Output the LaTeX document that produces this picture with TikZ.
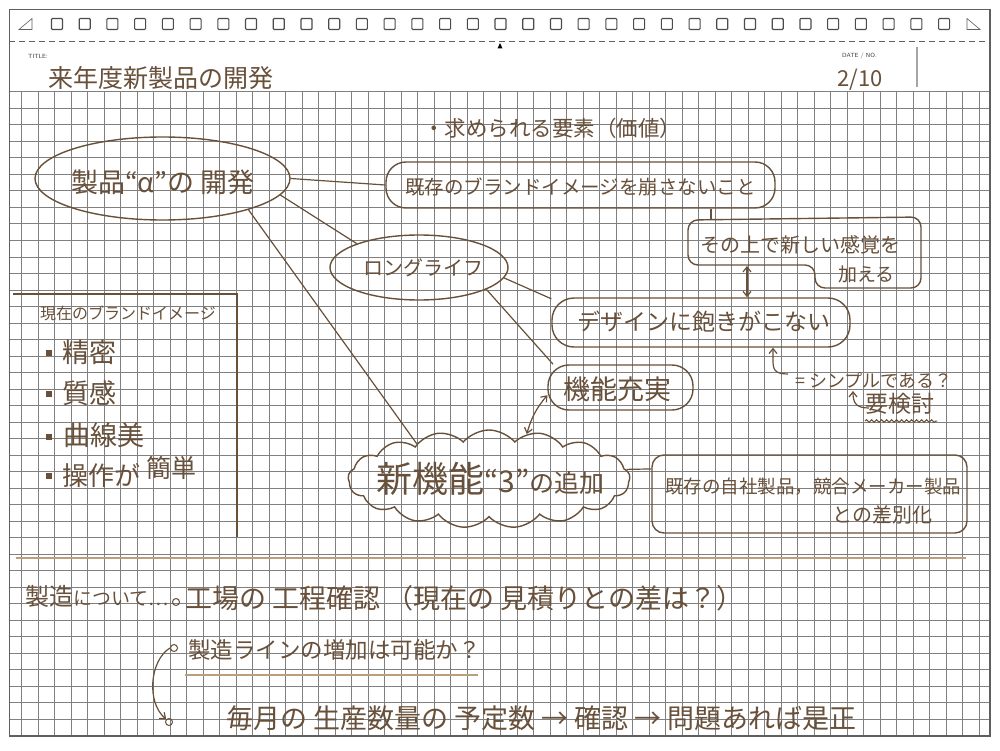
\documentclass[tikz,border=0pt]{standalone}
\usepackage{fontspec}
\newfontfamily\jp{Noto Sans CJK JP}
\usetikzlibrary{shapes.geometric,shapes.symbols,arrows.meta,decorations.pathmorphing}
\definecolor{ink}{RGB}{104,80,58}
\definecolor{tanc}{RGB}{184,160,124}
\definecolor{gridc}{RGB}{128,128,128}
\definecolor{framec}{RGB}{95,95,95}
\newcommand{\fsz}[1]{\fontsize{#1}{#1}\selectfont}
\begin{document}
\begin{tikzpicture}[x=1pt,y=-1pt,
  inkline/.style={draw=ink, line width=1.4pt},
  txt/.style={text=ink, inner sep=0pt},
  arr/.style={draw=ink, line width=1.2pt, -{Straight Barb[length=5pt,width=8pt]}},
  darr/.style={draw=ink, line width=1.2pt, {Straight Barb[length=5pt,width=8pt]}-{Straight Barb[length=5pt,width=8pt]}},
  conn/.style={draw=ink, line width=1.2pt},
  dot/.style={circle, draw=ink, line width=1pt, minimum size=7pt, inner sep=0pt},
  bullet/.style={fill=ink, minimum size=6pt, inner sep=0pt},
  gridline/.style={draw=gridc, line width=1pt},
  tiny/.style={text=black!75, font=\sffamily\fsz{6}, inner sep=0pt, anchor=west}
]
\useasboundingbox (0,0) rectangle (1000,751);
\fill[white] (0,0) rectangle (1000,751);

% grid
\foreach \i in {0,...,58} \draw[gridline] ({21.7+16.51*\i},92) -- ({21.7+16.51*\i},736);
\foreach \j in {0,...,39} \draw[gridline] (9.3,{92+16.5*\j}) -- (990,{92+16.5*\j});

% page frame and header
\draw[framec, line width=1.3pt] (9.3,9.3) rectangle (990,736);
\draw[framec, line width=1pt, dash pattern=on 6pt off 4pt] (9.3,42) -- (990,42);
\foreach \k in {0,...,32} \draw[framec!80!black, line width=1.1pt, rounded corners=1pt] ({51.5+27.72*\k},18.5) rectangle ++(11,11);
\draw[framec, line width=0.6pt] (19,29.5) -- (32,18.5) -- (32,29.5) -- cycle;
\draw[framec, line width=0.6pt] (967,18.5) -- (980,29.5) -- (967,29.5) -- cycle;
\fill[black] (500,43) -- (502.5,48.5) -- (497.5,48.5) -- cycle;
\draw[black!35, line width=1.2pt] (917,47) -- (917,87);
\node[tiny] (ttl) at (28,56) {TITLE:};
\node[tiny] (dat) at (842,56) {DATE / NO.};
\node[txt, font=\jp\fsz{25}, anchor=west] (title) at (48,78) {来年度新製品の開発};
\node[txt, font=\jp\fsz{22}, anchor=west] (date) at (837,80) {2/10};

% main ellipse
\node[ellipse, inkline, minimum width=255pt, minimum height=83pt, inner sep=0pt] (e1) at (162.5,178.5) {};
\node[txt, font=\jp\fsz{27}] (e1t) at (163,182) {製品“α”の 開発};

\node[txt, font=\jp\fsz{21.5}, anchor=west] (req) at (423,128) {・求められる要素（価値）};

% box A
\node[rectangle, rounded corners=20pt, inkline, minimum width=389pt, minimum height=46pt] (bA) at (580.5,185) {};
\node[txt, font=\jp\fsz{19.5}, anchor=west] (bAt) at (405,187) {既存のブランドイメージを崩さないこと};

% box B (irregular)
\draw[inkline, rounded corners=10pt] (688,220) -- (921,217) -- (921,288) -- (815,288) -- (815,265) -- (688,265) -- cycle;
\coordinate (bBt) at (711,220);
\coordinate (bBb) at (747,266);
\node[txt, font=\jp\fsz{20}, anchor=west] (bBt1) at (700,245) {その上で新しい感覚を};
\node[txt, font=\jp\fsz{19}, anchor=west] (bBt2) at (838,274) {加える};

% ellipse 2
\node[ellipse, inkline, minimum width=178pt, minimum height=65pt, inner sep=0pt] (e2) at (419,267.5) {};
\node[txt, font=\jp\fsz{20}] (e2t) at (423,268) {ロングライフ};

% box C
\node[rectangle, rounded corners=22pt, inkline, minimum width=298pt, minimum height=49pt] (bC) at (701,322.5) {};
\node[txt, font=\jp\fsz{23}, anchor=west] (bCt) at (577,322) {デザインに飽きがこない};

% box D
\node[rectangle, rounded corners=21pt, inkline, minimum width=145pt, minimum height=45pt] (bD) at (620.5,387.5) {};
\node[txt, font=\jp\fsz{27}] (bDt) at (617,389) {機能充実};

% notes
\node[txt, font=\jp\fsz{18}, anchor=west] (simp) at (795,380) {= シンプルである？};
\node[txt, font=\jp\fsz{23}, anchor=west] (kento) at (865,404) {要検討};
\draw[ink, line width=1pt, decorate, decoration={snake, amplitude=1.3pt, segment length=5pt}] (865,421) -- (937,421);
\coordinate (h1) at (788,374);
\coordinate (h1x) at (773,0);
\coordinate (h2) at (869,408);
\coordinate (h2t) at (853,391);

% cloud
\node[cloud, inkline, cloud puffs=17, cloud puff arc=100, cloud ignores aspect, minimum width=282pt, minimum height=98pt, inner sep=0pt] (cl) at (489,479) {};
\node[txt, anchor=base west] (clt) at (376,492) {{\jp\fsz{36}新機能}{\jp\fsz{30}“3”}{\jp\fsz{25}の追加}};

% box E
\node[rectangle, rounded corners=12pt, inkline, minimum width=315pt, minimum height=78pt] (bE) at (809.5,494) {};
\node[txt, font=\jp\fsz{18.5}, anchor=west] (bEt1) at (665,487) {既存の自社製品，競合メーカー製品};
\node[txt, font=\jp\fsz{20}, anchor=west] (bEt2) at (832,515) {との差別化};

% left box
\draw[inkline] (13,294) -- (237,294) -- (237,537);
\node[txt, font=\jp\fsz{16}, anchor=west] (cur) at (40,313) {現在のブランドイメージ};
\node[bullet] (b1) at (49,353) {};
\node[bullet] (b2) at (49,394) {};
\node[bullet] (b3) at (49,437) {};
\node[bullet] (b4) at (49,476) {};
\node[txt, font=\jp\fsz{27}, anchor=west] (i1) at (62,352) {精密};
\node[txt, font=\jp\fsz{27}, anchor=west] (i2) at (62,393) {質感};
\node[txt, font=\jp\fsz{27}, anchor=west] (i3) at (63,435) {曲線美};
\node[txt, font=\jp\fsz{26}, anchor=west] (i4) at (62,476) {操作が};
\node[txt, font=\jp\fsz{25}, anchor=west] (i5) at (146,468) {簡単};

% connectors
\draw[conn] (e1.east) -- (bA.west);
\draw[conn] (e1.-8) -- (e2.159);
\draw[conn] (e1.-20) -- (cl.154);
\draw[conn] (e2.-7) -- (bC.171);
\draw[conn] (e2.-18) -- (bD.161);
\draw[conn] (bA.south -| bBt) -- (bBt);
\draw[darr] (bBb) -- (bBb |- bC.north);
\draw[darr] (bD.186) to[bend right=12] (cl.50);
\draw[conn] (cl.4) -- (bE.171);
\draw[arr] (h1) .. controls (774,374) and (773,369) .. (773,360) -- (bC.south -| h1x);
\draw[arr] (h2) .. controls (856,408) and (853,403) .. (h2t);

% bottom section
\draw[tanc, line width=2pt] (16,558) -- (966,558);
\node[txt, anchor=base west] (mfg) at (25,605) {{\jp\fsz{24}製造}{\jp\fsz{19}について…}};
\node[dot] (c1) at (176,602) {};
\node[txt, font=\jp\fsz{27}, anchor=west] (l1) at (185,598) {工場の 工程確認 （現在の 見積りとの差は？）};
\node[dot] (c2) at (174,648) {};
\node[txt, font=\jp\fsz{22.5}, anchor=west] (l2) at (188,650) {製造ラインの増加は可能か？};
\draw[tanc, line width=2.5pt] (185,675) -- (478,675);
\node[dot] (c3) at (169,722) {};
\node[txt, font=\jp\fsz{27}, anchor=west] (l3) at (226,718) {毎月の 生産数量の 予定数 → 確認 → 問題あれば是正};
\draw[arr] (c2.west) .. controls (150,660) and (146,702) .. (c3.north west);
\end{tikzpicture}
\end{document}
